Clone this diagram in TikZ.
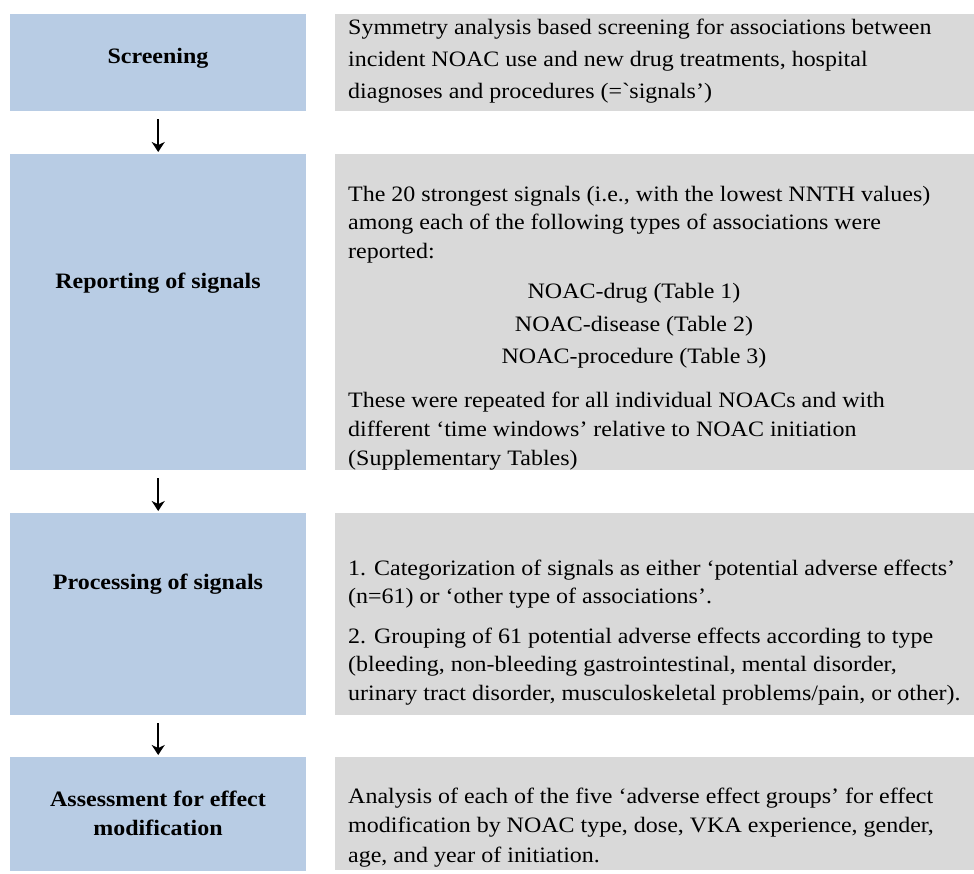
\documentclass[tikz,border=0pt]{standalone}
\usepackage{fontspec}
\setmainfont{Liberation Serif}[FakeStretch=1.09]
\usetikzlibrary{arrows.meta}
\definecolor{boxblue}{HTML}{B8CCE4}
\definecolor{boxgray}{HTML}{D9D9D9}
\newcommand\mypara[2]{\parbox[t]{630pt}{\fontsize{22}{#1}\selectfont #2}}
\begin{document}
\begin{tikzpicture}[x=1pt,y=-1pt,
  bluebox/.style={fill=boxblue, draw=none, anchor=north west, inner sep=0pt, minimum width=296pt},
  graybox/.style={fill=boxgray, draw=none, anchor=north west, inner sep=0pt, minimum width=639pt},
  lbl/.style={anchor=base, inner sep=0pt, font=\fontsize{22}{29}\selectfont\bfseries},
  txt/.style={anchor=base west, inner sep=0pt},
  ctr/.style={anchor=base, inner sep=0pt, font=\fontsize{22}{29}\selectfont},
  arr/.style={-{Stealth[length=10pt,width=13pt,inset=3pt]}, line width=1.5pt, shorten <=8pt, shorten >=2pt}]
\useasboundingbox (0,0) rectangle (974,873);
% left boxes
\node[bluebox, minimum height=97pt] (b1) at (10,14) {};
\node[bluebox, minimum height=316pt] (b2) at (10,154) {};
\node[bluebox, minimum height=202pt] (b3) at (10,513) {};
\node[bluebox, minimum height=114pt] (b4) at (10,757) {};
% right boxes
\node[graybox, minimum height=97pt] (g1) at (335,14) {};
\node[graybox, minimum height=316pt] (g2) at (335,154) {};
\node[graybox, minimum height=202pt] (g3) at (335,513) {};
\node[graybox, minimum height=113pt] (g4) at (335,757) {};
% labels
\node[lbl] (l1) at (158,63) {Screening};
\node[lbl] (l2) at (158,288) {Reporting of signals};
\node[lbl] (l3) at (158,589) {Processing of signals};
\node[lbl] (l4) at (158,806) {Assessment for effect};
\node[lbl] (l5) at (158,835) {modification};
% texts
\node[txt] (t1) at (348,34) {\mypara{32}{Symmetry analysis based screening for associations between\\
incident NOAC use and new drug treatments, hospital\\
diagnoses and procedures (=\textasciigrave signals’)}};
\node[txt] (t2) at (348,201) {\mypara{28.6}{The 20 strongest signals (i.e., with the lowest NNTH values)\\
among each of the following types of associations were\\
reported:}};
\node[ctr] (t3) at (634,298) {NOAC-drug (Table 1)};
\node[ctr] (t4) at (634,331) {NOAC-disease (Table 2)};
\node[ctr] (t5) at (634,363) {NOAC-procedure (Table 3)};
\node[txt] (t6) at (348,407) {\mypara{29}{These were repeated for all individual NOACs and with\\
different ‘time windows’ relative to NOAC initiation\\
(Supplementary Tables)}};
\node[txt] (t7) at (348,575) {\mypara{28}{1. Categorization of signals as either ‘potential adverse effects’\\
(n=61) or ‘other type of associations’.}};
\node[txt] (t8) at (348,643) {\mypara{28.5}{2. Grouping of 61 potential adverse effects according to type\\
(bleeding, non-bleeding gastrointestinal, mental disorder,\\
urinary tract disorder, musculoskeletal problems/pain, or other).}};
\node[txt] (t9) at (348,803) {\mypara{29.5}{Analysis of each of the five ‘adverse effect groups’ for effect\\
modification by NOAC type, dose, VKA experience, gender,\\
age, and year of initiation.}};
% arrows
\draw[arr] (b1) -- (b2);
\draw[arr] (b2) -- (b3);
\draw[arr] (b3) -- (b4);
\end{tikzpicture}
\end{document}
